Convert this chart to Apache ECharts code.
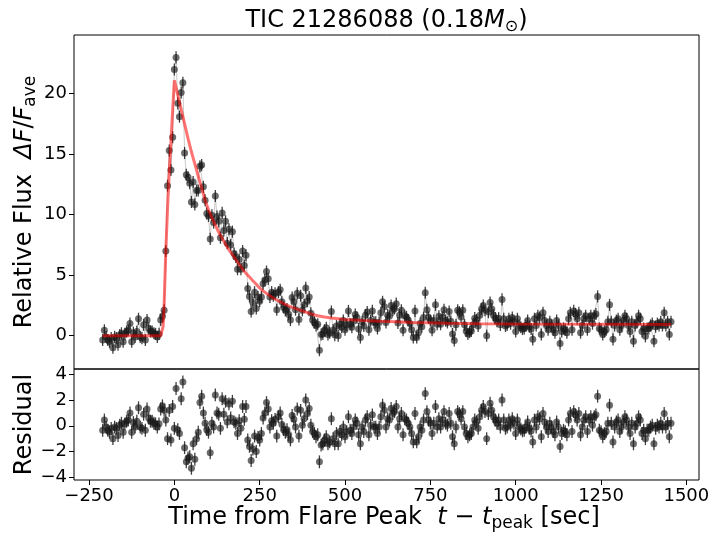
<!DOCTYPE html>
<html><head><meta charset="utf-8">
<script src="https://cdn.jsdelivr.net/npm/echarts@6/dist/echarts.min.js"></script>
<style>html,body{margin:0;padding:0;background:#fff}#c{width:713px;height:537px}</style>
</head><body><div id="c"></div>
<script>
// ---- data ----
const times = [
-210,-205,-200,-195,-190,-185,-180,-175,-170,-165,
-160,-155,-150,-145,-140,-135,-130,-125,-120,-115,
-110,-105,-100,-95,-90,-85,-80,-75,-70,-65,
-60,-55,-50,-45,-40,-35,-30,-25,-20,-15,
-10,-5,0,5,10,15,20,25,30,35,
40,45,50,55,60,65,70,75,80,85,
90,95,100,105,110,115,120,125,130,135,
140,145,150,155,160,165,170,175,180,185,
190,195,200,205,210,215,220,225,230,235,
240,245,250,255,260,265,270,275,280,285,
290,295,300,305,310,315,320,325,330,335,
340,345,350,355,360,365,370,375,380,385,
390,395,400,405,410,415,420,425,430,435,
440,445,450,455,460,465,470,475,480,485,
490,495,500,505,510,515,520,525,530,535,
540,545,550,555,560,565,570,575,580,585,
590,595,600,605,610,615,620,625,630,635,
640,645,650,655,660,665,670,675,680,685,
690,695,700,705,710,715,720,725,730,735,
740,745,750,755,760,765,770,775,780,785,
790,795,800,805,810,815,820,825,830,835,
840,845,850,855,860,865,870,875,880,885,
890,895,900,905,910,915,920,925,930,935,
940,945,950,955,960,965,970,975,980,985,
990,995,1000,1005,1010,1015,1020,1025,1030,1035,
1040,1045,1050,1055,1060,1065,1070,1075,1080,1085,
1090,1095,1100,1105,1110,1115,1120,1125,1130,1135,
1140,1145,1150,1155,1160,1165,1170,1175,1180,1185,
1190,1195,1200,1205,1210,1215,1220,1225,1230,1235,
1240,1245,1250,1255,1260,1265,1270,1275,1280,1285,
1290,1295,1300,1305,1310,1315,1320,1325,1330,1335,
1340,1345,1350,1355,1360,1365,1370,1375,1380,1385,
1390,1395,1400,1405,1410,1415,1420,1425,1430,1435,
1440,1445,1450,1455
];
const flux = [
-0.35,0.45,-0.1,-0.35,-0.5,-0.2,-1.0,-0.1,-0.2,-0.75,
0.05,0.2,-0.5,0.15,0.35,0.45,1.0,-0.5,0.25,-0.1,
0.35,1.4,-0.1,-0.2,0.9,-0.35,1.3,0.6,0.35,0.35,
0.2,0.15,-0.1,0.15,1.3,
1.6,2.1,7.0,12.4,15.3,13.7,16.4,22.0,23.0,19.2,18.1,20.1,20.9,
15.1,13.3,13.1,12.6,11.05,12.7,10.85,12.0,12.0,14.0,14.1,12.3,11.2,10.1,
9.9,8.0,9.95,9.35,11.55,9.85,9.45,8.1,10.15,8.7,
9.45,7.65,8.8,7.5,8.6,6.8,6.5,5.5,6.3,5.5,
7.0,5.8,6.65,3.9,3.25,2.0,2.75,3.6,2.25,3.2,
2.85,3.2,4.3,4.6,5.3,4.7,3.2,3.6,3.3,3.5,
2.15,3.6,3.8,2.8,2.35,2.1,2.2,1.75,1.3,3.15,
2.8,2.15,3.5,1.35,3.3,
2.1,2.55,3.95,2.85,3.2,1.85,1.3,1.1,0.85,0.95,
-1.2,0.1,0.15,0.45,0.65,0.1,0.25,2.0,0.45,0.05,
0.8,0.0,0.95,0.7,1.25,0.5,0.9,2.05,0.95,0.7,
1.2,1.75,1.5,0.55,-0.15,1.15,0.8,1.7,1.95,0.5,
1.25,2.05,1.1,1.1,0.6,1.1,1.9,2.8,2.4,1.1,
1.7,1.6,2.5,2.1,2.25,2.65,1.05,1.7,2.1,0.45,
1.65,1.55,1.3,1.0,0.5,-0.15,2.05,-0.15,0.25,1.0,
0.75,1.5,3.55,2.15,1.5,1.25,0.45,1.25,2.55,0.95,
1.6,0.95,1.5,2.15,1.25,1.1,2.0,1.2,0.15,-0.4,
0.9,2.1,1.95,1.55,2.1,0.9,0.4,0.15,0.3,0.4,
0.9,1.45,1.3,0.8,1.7,2.2,2.5,2.1,0.0,1.95,
2.75,2.2,1.7,1.45,1.2,1.45,0.9,3.0,1.4,0.8,
0.9,1.4,1.0,1.5,1.15,0.35,1.4,0.85,
0.7,0.55,0.6,0.85,1.25,0.75,0.55,-0.3,1.4,0.85,
1.65,1.5,0.1,1.9,1.25,0.85,0.5,1.15,0.85,0.5,
0.25,1.25,0.85,-0.65,0.35,0.6,0.5,0.25,1.4,1.9,
0.5,2.05,1.8,1.4,1.9,0.25,0.85,1.4,1.65,0.5,
1.4,1.65,1.0,1.65,1.8,3.25,0.6,0.5,0.1,0.35,
0.5,1.15,2.55,1.15,-0.3,0.85,1.25,1.4,0.5,0.85,
1.25,1.65,1.4,0.85,0.35,1.15,-0.45,0.85,1.15,1.65,
1.4,0.35,0.6,-0.05,0.6,0.6,0.85,1.0,-0.45,0.75,
1.0,0.85,1.15,0.85,1.9,0.85,1.15,0.1,1.15
];
const resid = [
-0.35,0.45,-0.1,-0.35,-0.5,-0.2,-1.0,-0.1,-0.2,-0.75,
0.05,0.2,-0.5,0.15,0.35,0.45,1.0,-0.5,0.25,-0.1,
0.35,1.4,-0.1,-0.2,0.9,-0.35,1.3,0.6,0.35,0.35,
0.2,0.15,-0.1,0.15,
1.3,1.55,1.2,0.45,-1.0,1.2,-1.1,1.5,-0.2,2.9,
-0.3,-0.6,2.1,3.4,-1.7,-2.8,-2.5,-2.4,-3.3,-1.4,
-2.6,-1.0,-0.5,1.8,2.3,1.0,0.2,-0.3,
-0.5,-2.1,0.2,-0.1,2.4,1.0,0.9,-0.2,2.1,0.9,
1.9,0.3,1.7,0.6,1.9,0.3,0.2,-0.6,0.4,-0.2,
1.5,0.5,1.5,-1.1,-1.6,-2.7,-1.8,-0.8,-2.0,-0.9,
-1.1,-0.6,0.6,1.0,1.8,1.3,-0.1,0.4,0.2,0.5,
-0.8,0.7,1.0,0.1,-0.3,-0.5,-0.3,-0.7,-1.1,0.8,
0.5,-0.1,1.3,-0.8,1.2,
0.05,0.55,2.0,0.95,1.35,0.05,-0.45,-0.6,-0.85,-0.7,
-2.8,-1.5,-1.4,-1.1,-0.85,-1.4,-1.25,0.55,-1.0,-1.4,
-0.6,-1.4,-0.45,-0.7,-0.1,-0.85,-0.45,0.7,-0.35,-0.6,
-0.1,0.45,0.2,-0.7,-1.4,-0.1,-0.45,0.45,0.7,-0.7,
0.05,0.85,-0.1,-0.1,-0.6,-0.1,0.7,1.6,1.2,-0.1,
0.55,0.45,1.35,0.95,1.1,1.5,-0.1,0.55,0.95,-0.7,
0.55,0.45,0.2,-0.1,-0.6,-1.25,0.95,-1.25,-0.85,-0.1,
-0.35,0.45,2.5,1.1,0.45,0.2,-0.6,0.2,1.5,-0.1,
0.55,-0.1,0.45,1.1,0.2,0.05,0.95,0.2,-0.85,-1.4,
-0.1,1.1,0.95,0.55,1.1,-0.1,-0.6,-0.85,-0.7,-0.6,
-0.1,0.45,0.3,-0.2,0.7,1.2,1.5,1.1,-1.0,0.95,
1.75,1.2,0.7,0.45,0.2,0.45,-0.1,2.0,0.45,-0.2,
-0.1,0.45,0.05,0.55,0.2,-0.6,0.45,-0.1,
-0.25,-0.4,-0.35,-0.1,0.3,-0.2,-0.4,-1.25,0.45,-0.1,
0.7,0.55,-0.85,0.95,0.3,-0.1,-0.45,0.2,-0.1,-0.45,
-0.7,0.3,-0.1,-1.6,-0.6,-0.35,-0.45,-0.7,0.45,0.95,
-0.45,1.1,0.85,0.45,0.95,-0.7,-0.1,0.45,0.7,-0.45,
0.45,0.7,0.05,0.7,0.85,2.3,-0.35,-0.45,-0.85,-0.6,
-0.45,0.2,1.6,0.2,-1.25,-0.1,0.3,0.45,-0.45,-0.1,
0.3,0.7,0.45,-0.1,-0.6,0.2,-1.4,-0.1,0.2,0.7,
0.45,-0.6,-0.35,-1.0,-0.35,-0.35,-0.1,0.05,-1.4,-0.2,
0.05,-0.1,0.2,-0.1,0.95,-0.1,0.2,-0.85,0.2
];
const modelTimes = [-210,-40,-36,-33,-30,-25,-20,-15,-10,-5,
0,10,20,30,40,50,60,70,80,90,
100,110,120,130,140,150,160,170,180,190,
200,210,220,230,240,250,260,270,280,290,
300,320,340,360,380,400,420,440,460,480,
500,550,600,650,700,800,900,1000,1200,1455];
const modelFlux = [0,0,0.1,0.75,2.5,7.0,10.5,13.5,16.0,18.6,
21.1,19.9,18.7,17.5,16.3,15.2,14.2,13.2,12.2,11.2,
10.4,9.75,9.15,8.55,8.05,7.55,7.1,6.7,6.3,5.9,
5.5,5.15,4.85,4.55,4.25,3.95,3.7,3.5,3.3,3.1,
2.95,2.65,2.4,2.2,2.0,1.8,1.65,1.55,1.47,1.41,
1.35,1.25,1.2,1.15,1.1,1.03,0.99,0.97,0.95,0.93];
const fluxErr = 0.5;
const xTicks = [-250,0,250,500,750,1000,1250,1500];
const fluxTicks = [0,5,10,15,20];
const residTicks = [-4,-2,0,2,4];

// ---- chart ----
const FONT = 'DejaVu Sans';
const topPts = times.map((t,i)=>[t, flux[i]]);
const topErr = times.map((t,i)=>[t, flux[i]-fluxErr, flux[i]+fluxErr]);
const botPts = times.map((t,i)=>[t, resid[i]]);
const botErr = times.map((t,i)=>[t, resid[i]-fluxErr, resid[i]+fluxErr]);
const modelPts = modelTimes.map((t,i)=>[t, modelFlux[i]]);

const fmt = v => (v < 0 ? '\u2212' + Math.abs(v) : String(v));
function errItem(params, api){
  const p1 = api.coord([api.value(0), api.value(1)]);
  const p2 = api.coord([api.value(0), api.value(2)]);
  return {type:'line', shape:{x1:p1[0], y1:p1[1], x2:p2[0], y2:p2[1]},
          style:{stroke:'rgba(0,0,0,0.75)', lineWidth:1.3}};
}
const noLine = {show:false, onZero:false};
const tickStyle = {show:true, length:5, lineStyle:{color:'#000', width:1}};
const labStyle = {show:true, fontSize:18, fontFamily:FONT, color:'#000', formatter:fmt};
const rich = {
  n:{fontSize:24, fontFamily:FONT, lineHeight:28, color:'#000'},
  i:{fontSize:24, fontFamily:FONT, fontStyle:'italic', lineHeight:28, color:'#000'},
  s:{fontSize:17, fontFamily:FONT, lineHeight:17, verticalAlign:'bottom', color:'#000'},
  o:{fontSize:16, fontFamily:FONT, lineHeight:16, verticalAlign:'bottom', color:'#000'}
};
function txt(x, y, text, rot){
  return {type:'text', x:x, y:y, rotation:rot||0, silent:true,
    style:{text:text, rich:rich, align:'center', verticalAlign:'middle', fill:'#000'}};
}

const chart = echarts.init(document.getElementById('c'), null, {renderer:'canvas'});
chart.setOption({
  animation:false,
  backgroundColor:'#fff',
  grid:[
    {left:74, top:35, width:625, height:334, show:true, borderColor:'#000', borderWidth:1, backgroundColor:'transparent'},
    {left:74, top:369, width:625, height:111, show:true, borderColor:'#000', borderWidth:1, backgroundColor:'transparent'}
  ],
  xAxis:[
    {type:'value', gridIndex:0, min:-294, max:1537, axisLine:noLine, axisTick:{show:false}, axisLabel:{show:false}, splitLine:{show:false}},
    {type:'value', gridIndex:1, min:-294, max:1537, position:'bottom', axisLine:noLine, splitLine:{show:false},
     axisTick:Object.assign({customValues:xTicks}, tickStyle),
     axisLabel:Object.assign({customValues:xTicks, margin:7}, labStyle)}
  ],
  yAxis:[
    {type:'value', gridIndex:0, min:-2.75, max:24.85, position:'left', axisLine:noLine, splitLine:{show:false},
     axisTick:Object.assign({customValues:fluxTicks}, tickStyle),
     axisLabel:Object.assign({customValues:fluxTicks, margin:7}, labStyle)},
    {type:'value', gridIndex:1, min:-4.21, max:4.41, position:'left', axisLine:noLine, splitLine:{show:false},
     axisTick:Object.assign({customValues:residTicks}, tickStyle),
     axisLabel:Object.assign({customValues:residTicks, margin:7}, labStyle)}
  ],
  graphic:[
    txt(386.5, 21, '{n|TIC 21286088 (0.18}{i|M}{o|\u2299}{n|)}'),
    txt(25, 202, '{n|Relative Flux  }{i|\u0394F}{n|/}{i|F}{s|ave}', Math.PI/2),
    txt(25, 424.5, '{n|Residual}', Math.PI/2),
    txt(384, 518, '{n|Time from Flare Peak  }{i|t}{n| \u2212 }{i|t}{s|peak}{n| [sec]}')
  ],
  series:[
    {type:'line', xAxisIndex:0, yAxisIndex:0, data:topPts, symbol:'none', silent:true, z:1,
     lineStyle:{color:'rgba(150,150,150,0.5)', width:1}},
    {type:'custom', xAxisIndex:0, yAxisIndex:0, data:topErr, renderItem:errItem, encode:{x:0, y:[1,2]}, silent:true, z:2},
    {type:'scatter', xAxisIndex:0, yAxisIndex:0, data:topPts, symbol:'circle', symbolSize:7, silent:true, z:3,
     itemStyle:{color:'rgba(25,25,25,0.8)'}},
    {type:'line', xAxisIndex:0, yAxisIndex:0, data:modelPts, symbol:'none', silent:true, z:4,
     lineStyle:{color:'rgba(255,0,0,0.55)', width:3}},
    {type:'custom', xAxisIndex:1, yAxisIndex:1, data:botErr, renderItem:errItem, encode:{x:0, y:[1,2]}, silent:true, z:2},
    {type:'scatter', xAxisIndex:1, yAxisIndex:1, data:botPts, symbol:'circle', symbolSize:7, silent:true, z:3,
     itemStyle:{color:'rgba(25,25,25,0.8)'}}
  ]
});
</script>
</body></html>
